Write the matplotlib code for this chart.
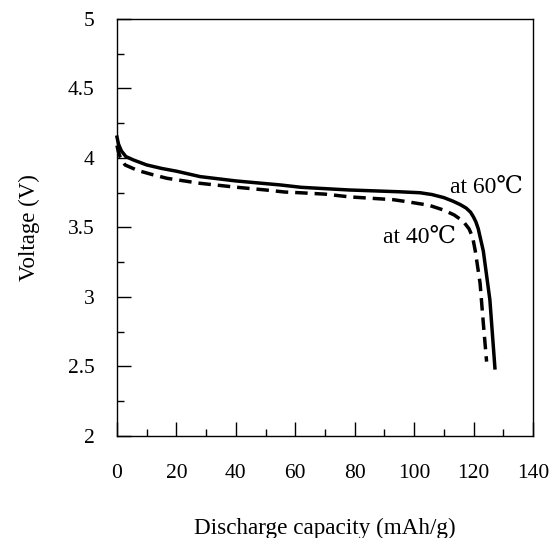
import numpy as np
import matplotlib.pyplot as plt
from matplotlib.ticker import MultipleLocator

# discharge curves
cap_60 = [0, 0.5, 1.5, 3, 5.5, 10, 15, 20, 28, 40, 55, 62, 78, 95, 102, 106, 110, 113, 115.5,
          117.5, 119, 120, 120.8, 121.6, 123.3, 125.5, 127.2]
volt_60 = [4.15, 4.10, 4.05, 4.01, 3.986, 3.95, 3.925, 3.905, 3.866, 3.835, 3.806, 3.789, 3.77,
           3.757, 3.75, 3.737, 3.715, 3.69, 3.665, 3.64, 3.61, 3.575, 3.54, 3.49, 3.33, 2.98, 2.49]

cap_40 = [0, 0.4, 1, 2.7, 7, 12, 16.8, 27.9, 40, 50, 56.5, 61.6, 70, 78.4, 93, 97.5, 105, 110,
          113.5, 116.5, 118.5, 119.7, 120.6, 122.2, 123.3, 124.4]
volt_40 = [4.09, 4.05, 4.01, 3.95, 3.91, 3.88, 3.854, 3.818, 3.79, 3.77, 3.755, 3.75, 3.74,
           3.72, 3.70, 3.686, 3.66, 3.625, 3.59, 3.545, 3.49, 3.43, 3.33, 3.10, 2.81, 2.535]

plt.rcParams['font.family'] = ['Liberation Serif', 'DejaVu Serif']

fig = plt.figure(figsize=(5.54, 5.38), dpi=100)
ax = fig.add_axes([0.2112, 0.1896, 0.7508, 0.7751])

ax.plot(cap_60, volt_60, color='black', lw=2.5, clip_on=False)
ax.plot(cap_40, volt_40, color='black', lw=2.5, dashes=(3.6, 2), clip_on=False)

ax.text(112, 3.79, 'at 60\u2103', fontsize=17, va='center', ha='left')
ax.text(89.5, 3.43, 'at 40\u2103', fontsize=17, va='center', ha='left')

ax.set_xlim(0, 140)
ax.set_ylim(2, 5)
ax.xaxis.set_major_locator(MultipleLocator(20))
ax.xaxis.set_minor_locator(MultipleLocator(10))
ax.yaxis.set_minor_locator(MultipleLocator(0.25))
ax.set_yticks([2, 2.5, 3, 3.5, 4, 4.5, 5])
ax.set_yticklabels(['2', '2.5', '3', '3.5', '4', '4.5', '5'])

ax.tick_params(which='both', direction='in', width=1, top=False, right=False)
ax.tick_params(which='major', length=10)
ax.tick_params(which='minor', length=5)
ax.tick_params(axis='x', which='major', pad=20, labelsize=15.5)
ax.tick_params(axis='y', which='major', pad=16, labelsize=15.5)
for s in ax.spines.values():
    s.set_linewidth(1)

ax.set_xlabel('Discharge capacity (mAh/g)', fontsize=16.7, labelpad=25)
ax.set_ylabel('Voltage (V)', fontsize=16.5, labelpad=20)

fig.savefig('out.png', dpi=100)
